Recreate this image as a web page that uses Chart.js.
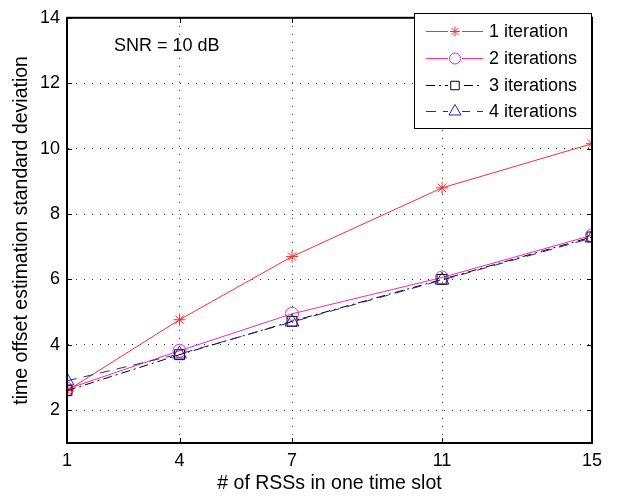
<!DOCTYPE html>
<html lang="en">
<head>
  <meta charset="UTF-8" />
  <title>Time offset estimation std vs RSS count</title>
  <script src="https://cdn.jsdelivr.net/npm/chart.js"></script>
  <style>
    html, body { margin: 0; padding: 0; background: #fff; }
    #wrap { width: 626px; height: 498px; position: relative; }
  </style>
</head>
<body>
  <div id="wrap">
    <canvas id="snrChart"></canvas>
  </div>

  <script>
    // values
    const rssCounts = [1, 4, 7, 11, 15];
    const iter1 = [2.6, 4.77, 6.7, 8.8, 10.15];
    const iter2 = [2.65, 3.82, 4.95, 6.06, 7.35];
    const iter3 = [2.6, 3.7, 4.72, 6.0, 7.3];
    const iter4 = [2.9, 3.72, 4.7, 5.98, 7.27];
    const xTicks = [1, 4, 7, 11, 15];
    const yTicks = [2, 4, 6, 8, 10, 12, 14];
    const seriesLabels = ['1 iteration', '2 iterations', '3 iterations', '4 iterations'];

    const FONT = 'Liberation Sans, Arial, Helvetica, sans-serif';

    function toPoints(ys) {
      return rssCounts.map((x, i) => ({ x: x, y: ys[i] }));
    }

    function makeSet(label, ys, color, style, radius, dash) {
      return {
        label: label,
        data: toPoints(ys),
        borderColor: color,
        backgroundColor: 'rgba(0,0,0,0)',
        borderWidth: 1,
        borderDash: dash,
        pointStyle: style,
        pointRadius: radius,
        pointBorderColor: color,
        pointBackgroundColor: 'rgba(0,0,0,0)',
        pointBorderWidth: 1,
        tension: 0
      };
    }

    const datasets = [
      makeSet(seriesLabels[3], iter4, 'rgb(40,40,165)', 'triangle', 8, [10, 7]),
      makeSet(seriesLabels[2], iter3, '#000000', 'rect', 7, [9, 4, 2, 4]),
      makeSet(seriesLabels[1], iter2, 'rgb(255,40,170)', 'circle', 6.5, []),
      makeSet(seriesLabels[0], iter1, 'rgb(255,45,45)', 'star', 6, [])
    ];

    // box, inward ticks, annotation and legend in the matlab look
    const matlabFrame = {
      id: 'matlabFrame',
      afterDatasetsDraw(chart) {
        const ctx = chart.ctx;
        const a = chart.chartArea;
        const xs = chart.scales.x, ys = chart.scales.y;
        ctx.save();
        ctx.strokeStyle = '#000';
        ctx.lineWidth = 1;
        ctx.setLineDash([]);
        ctx.beginPath();
        xTicks.forEach(v => {
          const px = Math.round(xs.getPixelForValue(v)) + 0.5;
          ctx.moveTo(px, a.bottom); ctx.lineTo(px, a.bottom - 5);
          ctx.moveTo(px, a.top); ctx.lineTo(px, a.top + 5);
        });
        yTicks.forEach(v => {
          const py = Math.round(ys.getPixelForValue(v)) + 0.5;
          ctx.moveTo(a.left, py); ctx.lineTo(a.left + 5, py);
          ctx.moveTo(a.right, py); ctx.lineTo(a.right - 5, py);
        });
        ctx.stroke();
        ctx.lineWidth = 2;
        ctx.strokeRect(a.left, a.top, a.right - a.left, a.bottom - a.top);

        ctx.fillStyle = '#000';
        ctx.font = '18px ' + FONT;
        ctx.textBaseline = 'middle';
        ctx.textAlign = 'left';
        ctx.fillText('SNR = 10 dB', 114, 46);

        // legend
        const lx = 414, ly = 13, lw = 177, lh = 115;
        ctx.fillStyle = '#fff';
        ctx.fillRect(lx, ly, lw, lh);
        ctx.lineWidth = 1;
        ctx.strokeStyle = '#000';
        ctx.strokeRect(lx + 0.5, ly + 0.5, lw, lh);
        const rows = [31, 58, 85, 111];
        const order = [3, 2, 1, 0];
        order.forEach((di, r) => {
          const ds = chart.data.datasets[di];
          const y = rows[r] + 0.5;
          ctx.strokeStyle = ds.borderColor;
          ctx.lineWidth = 1;
          ctx.setLineDash(ds.borderDash);
          ctx.beginPath();
          ctx.moveTo(426, y); ctx.lineTo(483, y);
          ctx.stroke();
          ctx.setLineDash([]);
          ctx.fillStyle = '#fff';
          ctx.fillRect(455 - 7, y - 7, 14, 14);
          ctx.strokeStyle = ds.borderColor;
          ctx.fillStyle = 'rgba(0,0,0,0)';
          Chart.helpers.drawPoint(ctx, {
            pointStyle: ds.pointStyle,
            radius: ds.pointRadius - 1,
            rotation: 0,
            borderWidth: 1
          }, 455, y);
          ctx.fillStyle = '#000';
          ctx.fillText(ds.label, 489, rows[r] + 1);
        });
        ctx.restore();
      }
    };

    document.addEventListener('DOMContentLoaded', () => {
      const ctx = document.getElementById('snrChart').getContext('2d');
      new Chart(ctx, {
        type: 'line',
        data: { datasets: datasets },
        options: {
          responsive: true,
          maintainAspectRatio: false,
          animation: false,
          layout: { padding: { top: 12, right: 34, left: 6, bottom: 0 } },
          plugins: {
            legend: { display: false },
            tooltip: { enabled: false }
          },
          scales: {
            x: {
              type: 'linear',
              min: 1,
              max: 15,
              afterBuildTicks: s => { s.ticks = xTicks.map(v => ({ value: v })); },
              afterFit: s => { s.height = 55; },
              grid: { color: '#333', lineWidth: 1, drawTicks: false },
              border: { display: true, color: '#000', width: 2, dash: [1, 7] },
              ticks: {
                color: '#000',
                font: { family: FONT, size: 18 },
                padding: 7,
                maxRotation: 0,
                callback: v => String(v)
              },
              title: {
                display: true,
                text: '# of RSSs in one time slot',
                color: '#000',
                padding: { top: 4, bottom: 3 },
                font: { family: FONT, size: 19.5 }
              }
            },
            y: {
              min: 1,
              max: 14,
              afterBuildTicks: s => { s.ticks = yTicks.map(v => ({ value: v })); },
              afterFit: s => { s.width = 61; },
              grid: { color: '#333', lineWidth: 1, drawTicks: false },
              border: { display: true, color: '#000', width: 2, dash: [1, 7] },
              ticks: {
                color: '#000',
                font: { family: FONT, size: 18 },
                padding: 7,
                callback: v => String(v)
              },
              title: {
                display: true,
                text: 'time offset estimation standard deviation',
                color: '#000',
                font: { family: FONT, size: 19.5 }
              }
            }
          }
        },
        plugins: [matlabFrame]
      });
    });
  </script>
</body>
</html>
